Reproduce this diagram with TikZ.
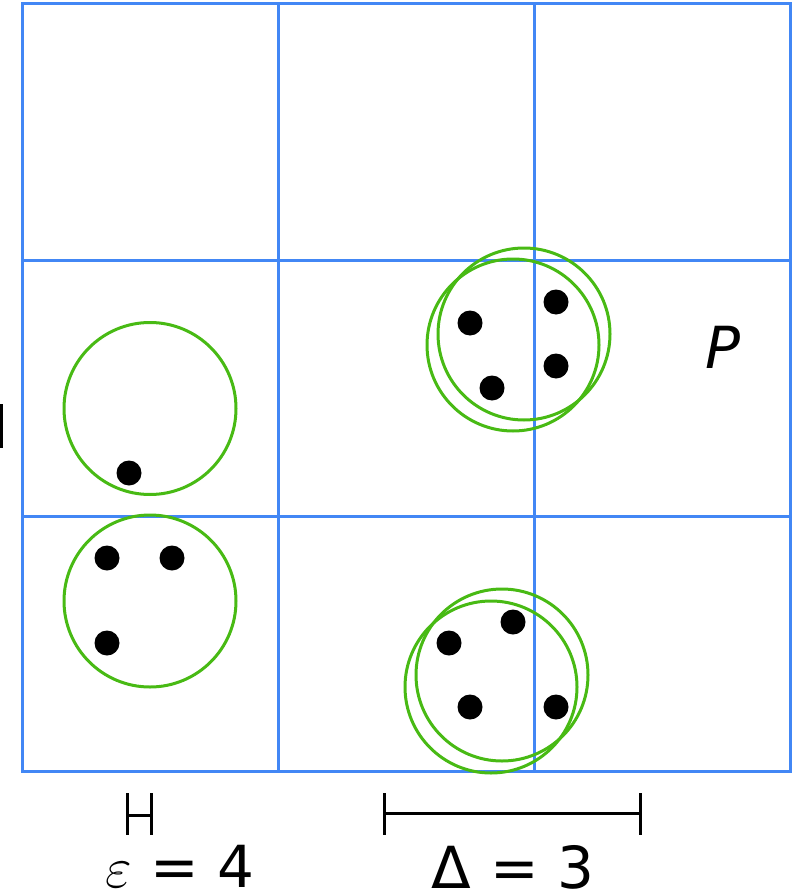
\RequirePackage{fix-cm}
\documentclass[tikz,border=0pt]{standalone}
\usepackage{fontspec}
\setmainfont{DejaVu Sans}
\usetikzlibrary{positioning}
\definecolor{gridblue}{RGB}{66,135,245}
\definecolor{ballgreen}{RGB}{72,186,20}
\tikzset{
  cellline/.style={
    draw=gridblue,
    line width=3pt
  },
  ball/.style={
    draw=ballgreen,
    line width=3pt
  },
  datapt/.style={
    circle,
    fill=black,
    inner sep=0pt,
    minimum size=25pt
  },
  rulerbar/.style={
    draw=black,
    line width=3pt
  },
  biglabel/.style={
    inner sep=0pt,
    font=\fontsize{58}{60}\selectfont
  }
}

\begin{document}
\begin{tikzpicture}[x=1pt,y=-1pt]
  \useasboundingbox (0,0) rectangle (803,896);

  % grid of cells
  \draw[cellline] (22.5,4) rectangle (790.5,771.5);
  \foreach \gx in {278.5,534.5}
    \draw[cellline] (\gx,4) -- (\gx,771.5);
  \foreach \gy in {260,516}
    \draw[cellline] (22.5,\gy) -- (790.5,\gy);

  % balls
  \foreach \cx/\cy in {150/408.5, 150/601, 513/345, 524/334, 491/687, 502/675}
    \draw[ball] (\cx,\cy) circle[radius=86pt];

  % points
  \foreach \px/\py [count=\i] in {129/473, 107/558, 172/558, 107/643,
      470/323, 556/302, 556/366, 492/388,
      449/643, 513/622, 470/707, 556/707}
    \node[datapt] (p\i) at (\px,\py) {};

  \node[biglabel] (setP) at (723,347) {\textit{P}};

  % rulers
  \draw[rulerbar] (1,404) -- (1,448);
  \draw[rulerbar] (127,793) -- (127,835);
  \draw[rulerbar] (151,793) -- (151,835);
  \draw[rulerbar] (127,815) -- (151,815);
  \draw[rulerbar] (384.5,793) -- (384.5,835);
  \draw[rulerbar] (640.5,793) -- (640.5,835);
  \draw[rulerbar] (384.5,813) -- (640.5,813);

  \node[biglabel, anchor=base] (eps) at (180,887) {$\varepsilon$ = 4};
  \node[biglabel, anchor=base] (delta) at (513,888) {Δ = 3};
\end{tikzpicture}
\end{document}
